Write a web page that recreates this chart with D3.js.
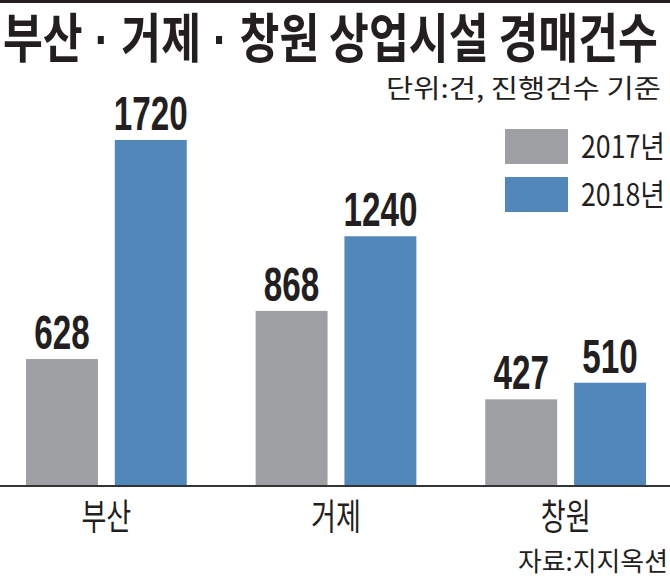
<!DOCTYPE html>
<html>
<head>
<meta charset="utf-8">
<script src="https://cdn.jsdelivr.net/npm/d3@7"></script>
<style>
  body { margin: 0; background: #fff; }
  svg { display: block; }
</style>
</head>
<body>
<div id="chart"></div>
<script>
const WIDTH = 670;
const HEIGHT = 581;

// data
const regions = ["부산", "거제", "창원"];
const years = ["2017년", "2018년"];
const counts2017 = [628, 868, 427];
const counts2018 = [1720, 1240, 510];

const TITLE_PARTS = ["부산", " · ", "거제", " · ", "창원 상업시설 경매건수"];
const UNIT = "단위:건, 진행건수 기준";
const SOURCE = "자료:지지옥션";

const COLORS = { "2017년": "#9e9fa3", "2018년": "#5287ba" };
const INK = "#231f20";
const KR_FONT = "'Noto Sans CJK KR', 'Noto Sans', sans-serif";
const NUM_FONT = "'Liberation Sans', Arial, sans-serif";

const BASELINE = 485;

const rows = regions.map((region, i) =>
  Object({
    region,
    values: [
      { year: years[0], value: counts2017[i] },
      { year: years[1], value: counts2018[i] },
    ],
  })
);

// squeeze a text horizontally to a target width (the print fonts are condensed)
const fitWidth = (sel, widthFn) =>
  sel.each(function (d) {
    const natural = this.getComputedTextLength();
    const target = typeof widthFn === "function" ? widthFn(d) : widthFn;
    const x = +this.getAttribute("x");
    const y = +this.getAttribute("y");
    this.setAttribute("x", 0);
    this.setAttribute("y", 0);
    this.setAttribute("transform", `translate(${x},${y}) scale(${target / natural},1)`);
  });

const svg = d3
  .select("#chart")
  .append("svg")
  .attr("width", WIDTH)
  .attr("height", HEIGHT);

// scales
const x0 = d3.scaleBand().domain(regions).range([26, 646]).paddingInner(0.3).paddingOuter(0);
const x1 = d3.scaleBand().domain(years).range([0, x0.bandwidth()]).paddingInner(0.19).paddingOuter(0);
// 1720 -> top at y=140
const y = d3.scaleLinear().domain([0, 1720]).range([BASELINE, 140]);

// top rule
svg.append("rect").attr("x", 0).attr("y", 0).attr("width", WIDTH).attr("height", 3).attr("fill", INK);

// title + unit
const title = svg
  .append("text")
  .attr("x", 3)
  .attr("y", 58)
  .attr("fill", INK)
  .style("font-family", KR_FONT)
  .style("font-weight", 700)
  .style("font-size", "54px");

title
  .selectAll("tspan")
  .data(TITLE_PARTS)
  .join("tspan")
  .style("font-family", (d) => (d.trim() === "·" ? NUM_FONT : KR_FONT))
  .text((d) => d);

fitWidth(title, 655);

svg
  .append("text")
  .attr("x", 386)
  .attr("y", 98)
  .attr("fill", INK)
  .style("font-family", KR_FONT)
  .style("font-size", "26px")
  .text(UNIT)
  .call(fitWidth, 275);

// legend
const legend = svg
  .append("g")
  .selectAll("g")
  .data(years)
  .join("g")
  .attr("transform", (d, i) => `translate(505, ${129 + i * 48})`);

legend.append("rect").attr("width", 63).attr("height", 35).attr("fill", (d) => COLORS[d]);

legend
  .append("text")
  .attr("x", 76)
  .attr("y", 29)
  .attr("fill", INK)
  .style("font-family", KR_FONT)
  .style("font-size", "31px")
  .text((d) => d)
  .call(fitWidth, 84);

// bars
const groups = svg
  .append("g")
  .selectAll("g")
  .data(rows)
  .join("g")
  .attr("transform", (d) => `translate(${x0(d.region)}, 0)`);

groups
  .selectAll("rect")
  .data((d) => d.values)
  .join("rect")
  .attr("x", (d) => x1(d.year))
  .attr("y", (d) => y(d.value))
  .attr("width", x1.bandwidth())
  .attr("height", (d) => BASELINE - y(d.value))
  .attr("fill", (d) => COLORS[d.year]);

groups
  .selectAll("text.value")
  .data((d) => d.values)
  .join("text")
  .attr("class", "value")
  .attr("x", (d) => x1(d.year) + x1.bandwidth() / 2)
  .attr("y", (d) => y(d.value) - 10)
  .attr("text-anchor", "middle")
  .attr("fill", INK)
  .style("font-family", NUM_FONT)
  .style("font-weight", 700)
  .style("font-size", "48px")
  .text((d) => d.value)
  .call(fitWidth, (d) => String(d.value).length * 18.5);

// baseline
svg
  .append("line")
  .attr("x1", 0)
  .attr("x2", WIDTH)
  .attr("y1", BASELINE + 1)
  .attr("y2", BASELINE + 1)
  .attr("stroke", "#333")
  .attr("stroke-width", 2);

// category labels
svg
  .append("g")
  .selectAll("text")
  .data(regions)
  .join("text")
  .attr("x", (d) => x0(d) + x0.bandwidth() / 2)
  .attr("y", 530)
  .attr("text-anchor", "middle")
  .attr("fill", INK)
  .style("font-family", KR_FONT)
  .style("font-size", "36px")
  .text((d) => d)
  .call(fitWidth, 50);

// source
svg
  .append("text")
  .attr("x", 518)
  .attr("y", 571)
  .attr("fill", INK)
  .style("font-family", KR_FONT)
  .style("font-size", "26px")
  .text(SOURCE)
  .call(fitWidth, 150);
</script>
</body>
</html>
